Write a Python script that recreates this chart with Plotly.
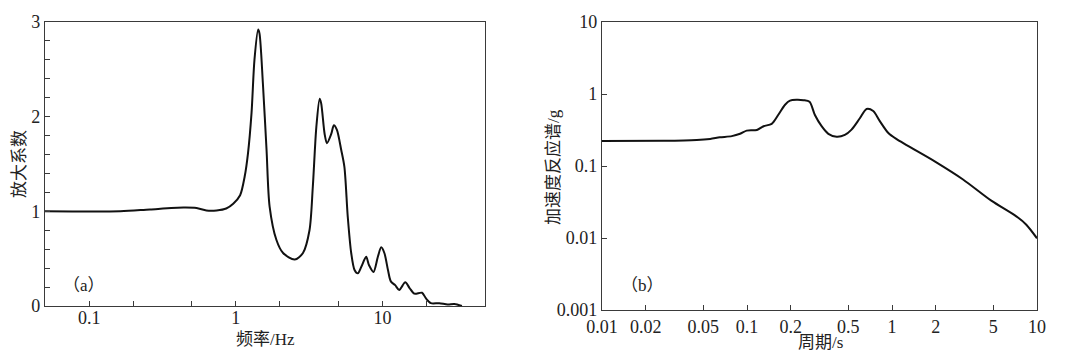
import plotly.graph_objects as go

# Panel (a): amplification factor vs frequency
freq_hz = [0.05, 0.163, 0.26, 0.44, 0.54, 0.63, 0.74, 0.86, 0.96, 1.07, 1.15, 1.21, 1.28, 1.34,
           1.42, 1.45, 1.53, 1.62, 1.70, 1.89, 2.10, 2.52, 2.87, 3.18, 3.35, 3.54, 3.73, 3.82,
           4.03, 4.18, 4.48, 4.66, 4.89, 5.23, 5.5, 5.8, 6.12, 6.45, 6.79, 7.2, 7.74, 8.1, 8.69,
           9.3, 9.8, 10.3, 10.9, 11.4, 12.2, 13.0, 14.3, 15.3, 16.5, 18.6, 19.8, 21.4, 24.4,
           27.8, 30.9, 34.8]
amp_factor = [1.0, 1.0, 1.02, 1.04, 1.035, 1.01, 1.01, 1.03, 1.08, 1.17, 1.37, 1.61, 2.04, 2.6,
              2.92, 2.88, 2.35, 1.65, 1.05, 0.70, 0.56, 0.49, 0.56, 0.80, 1.26, 1.89, 2.19, 2.14,
              1.82, 1.72, 1.82, 1.91, 1.86, 1.65, 1.47, 0.94, 0.56, 0.38, 0.345, 0.42, 0.52, 0.43,
              0.36, 0.52, 0.62, 0.56, 0.38, 0.26, 0.22, 0.17, 0.25, 0.19, 0.13, 0.14, 0.08, 0.03,
              0.03, 0.015, 0.02, 0.0]

# Panel (b): acceleration response spectrum vs period
period_s = [0.01, 0.0266, 0.045, 0.0557, 0.065, 0.0786, 0.0896, 0.0995, 0.117, 0.13, 0.148,
            0.164, 0.183, 0.198, 0.22, 0.245, 0.27, 0.294, 0.327, 0.364, 0.415, 0.473, 0.526,
            0.60, 0.668, 0.742, 0.824, 0.94, 1.07, 1.97, 3.09, 4.84, 7.2, 8.44, 10.0]
sa_g = [0.222, 0.224, 0.23, 0.238, 0.25, 0.26, 0.28, 0.31, 0.316, 0.357, 0.385, 0.51, 0.71,
        0.81, 0.83, 0.82, 0.78, 0.51, 0.357, 0.28, 0.255, 0.27, 0.32, 0.46, 0.62, 0.58, 0.42,
        0.29, 0.238, 0.116, 0.065, 0.033, 0.020, 0.0153, 0.0099]

a_xticks = [0.1, 0.2, 0.5, 1, 2, 5, 10, 20]
a_xtext = ["0.1", "", "", "1", "", "", "10", ""]
a_yticks = [0, 0.2, 0.4, 0.6, 0.8, 1, 1.2, 1.4, 1.6, 1.8, 2, 2.2, 2.4, 2.6, 2.8, 3]
a_ytext = ["0", "", "", "", "", "1", "", "", "", "", "2", "", "", "", "", "3"]
b_xticks = [0.01, 0.02, 0.05, 0.1, 0.2, 0.5, 1, 2, 5, 10]
b_xtext = ["0.01", "0.02", "0.05", "0.1", "0.2", "0.5", "1", "2", "5", "10"]
b_yticks = [0.001, 0.01, 0.1, 1, 10]
b_ytext = ["0.001", "0.01", "0.1", "1", "10"]

FONT = "'Liberation Serif', 'Times New Roman', 'Noto Sans CJK SC', serif"
OFF = 8                      # page body margin
W, H = 1071 - OFF, 358 - OFF

def px(x):
    return (x - OFF) / W

def py(y):
    return 1 - (y - OFF) / H

fig = go.Figure()
fig.add_trace(go.Scatter(x=freq_hz, y=amp_factor, mode="lines", xaxis="x", yaxis="y",
                         line=dict(color="#111111", width=2, shape="spline", smoothing=0.8),
                         showlegend=False, hoverinfo="skip"))
fig.add_trace(go.Scatter(x=period_s, y=sa_g, mode="lines", xaxis="x2", yaxis="y2",
                         line=dict(color="#111111", width=2, shape="spline", smoothing=0.8),
                         showlegend=False, hoverinfo="skip"))

axis_common = dict(showline=True, linecolor="#3a3a3a", linewidth=1.2, mirror=True,
                   ticks="inside", ticklen=5, tickcolor="#3a3a3a", tickwidth=1,
                   showgrid=False, zeroline=False, automargin=False,
                   tickfont=dict(family=FONT, size=18, color="#222222"))

fig.update_layout(
    width=W, height=H,
    margin=dict(l=0, r=0, t=0, b=0, pad=0),
    paper_bgcolor="white", plot_bgcolor="white",
    font=dict(family=FONT, size=17, color="#222222"),
    xaxis=dict(type="log", range=[-1.301, 1.699], domain=[px(45), px(485)],
               tickmode="array", tickvals=a_xticks, ticktext=a_xtext, anchor="y",
               ticklabelstandoff=-5, **axis_common),
    yaxis=dict(range=[0, 3], domain=[py(306), py(22)],
               tickmode="array", tickvals=a_yticks, ticktext=a_ytext, anchor="x", **axis_common),
    xaxis2=dict(type="log", range=[-2, 1], domain=[px(602), px(1037)],
                tickmode="array", tickvals=b_xticks, ticktext=b_xtext, anchor="y2",
                ticklabelstandoff=0, **axis_common),
    yaxis2=dict(type="log", range=[-3, 1], domain=[py(310), py(22)],
                tickmode="array", tickvals=b_yticks, ticktext=b_ytext, anchor="x2", **axis_common),
)

def ann(text, x, y, angle=0, size=17):
    fig.add_annotation(text=text, x=px(x), y=py(y), xref="paper", yref="paper",
                       showarrow=False, textangle=angle, xanchor="center", yanchor="middle",
                       font=dict(family=FONT, size=size, color="#222222"))

ann("频率/Hz", 265, 339)
ann("周期/s", 820, 342)
ann("放大系数", 19, 164, angle=-90)
ann("加速度反应谱/g", 553, 167, angle=-90)
ann("（a）", 84, 285)
ann("（b）", 642, 285)

fig.write_html("out.html")
